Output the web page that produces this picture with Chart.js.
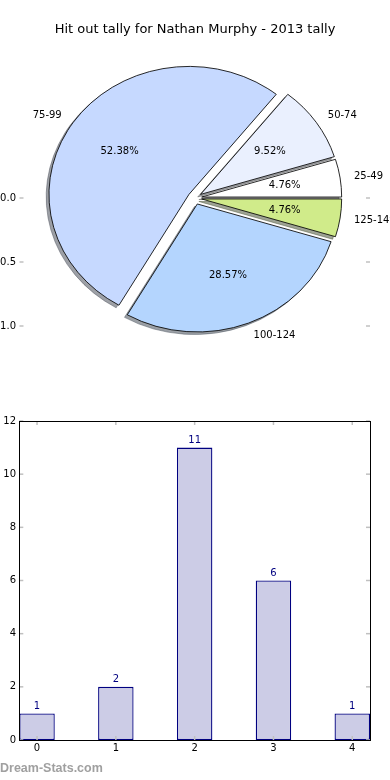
<!DOCTYPE html>
<html>
<head>
<meta charset="utf-8">
<script src="https://cdn.jsdelivr.net/npm/chart.js@4.4.1/dist/chart.umd.min.js"></script>
<style>
  body { margin: 0; background: #fff; width: 390px; height: 780px; position: relative; overflow: hidden; }
  #pie-wrap { position: absolute; left: 0; top: 0; width: 390px; height: 400px; }
  #bar-wrap { position: absolute; left: 0; top: 400px; width: 390px; height: 380px; }
  #watermark { position: absolute; left: 0; top: 761px; font: bold 12.5px "Liberation Sans", sans-serif; color: #a0a0a0; }
</style>
</head>
<body>
<div id="pie-wrap"><canvas id="pie-chart"></canvas></div>
<div id="bar-wrap"><canvas id="bar-chart"></canvas></div>
<div id="watermark">Dream-Stats.com</div>
<script>
const chartTitle = "Hit out tally for Nathan Murphy - 2013 tally";
const bands = ["25-49", "50-74", "75-99", "100-124", "125-149"];
const bins = [0, 1, 2, 3, 4];
const tally = [1, 2, 11, 6, 1];
const sliceColors = ["#ffffff", "#eaf0fe", "#c6d9ff", "#b4d5fe", "#d0eb8a"];
const pieTicks = [-1, -0.5, 0];
const countTicks = [0, 2, 4, 6, 8, 10, 12];

const FONT = "DejaVu Sans";
const total = tally.reduce((a, b) => a + b, 0);

// matplotlib draws counter-clockwise from 3 o'clock, chart.js clockwise -> reverse
const order = bands.map((b, i) => i).reverse();

const explode = 0.05;
const squash = 140 / 128;   // pie is drawn as an ellipse (unequal axes)
const shadowShift = 0.02;

function shade(hex) {
    const n = parseInt(hex.slice(1), 16);
    const r = (n >> 16) & 255, g = (n >> 8) & 255, b = n & 255;
    return `rgba(${Math.round(r * 0.3)},${Math.round(g * 0.3)},${Math.round(b * 0.3)},0.5)`;
}

// exploded, stretched pie with shadows + labels
const pieDraw = {
    id: "pieDraw",
    beforeDatasetDraw(chart, args) {
        const ctx = chart.ctx;
        const arcs = args.meta.data;
        const pass = (shadow) => {
            arcs.forEach((arc, i) => {
                const r = arc.outerRadius;
                const mid = (arc.startAngle + arc.endAngle) / 2;
                ctx.save();
                ctx.translate(arc.x, arc.y);
                ctx.scale(squash, 1);
                ctx.translate(Math.cos(mid) * explode * r, Math.sin(mid) * explode * r);
                if (shadow) ctx.translate(-shadowShift * r, shadowShift * r);
                ctx.translate(-arc.x, -arc.y);
                const orig = arc.options;
                if (shadow) {
                    const c = shade(sliceColors[order[i]]);
                    arc.options = Object.assign({}, orig, { backgroundColor: c, borderColor: c });
                }
                arc.draw(ctx);
                arc.options = orig;
                ctx.restore();
            });
        };
        pass(true);
        pass(false);
        return false;
    },
    afterDatasetsDraw(chart) {
        const ctx = chart.ctx;
        const arcs = chart.getDatasetMeta(0).data;
        ctx.save();
        ctx.font = `10px "${FONT}"`;
        ctx.fillStyle = "#000";
        ctx.textBaseline = "middle";
        arcs.forEach((arc, i) => {
            const k = order[i];
            const r = arc.outerRadius;
            const mid = (arc.startAngle + arc.endAngle) / 2;
            const cx = arc.x + squash * r * explode * Math.cos(mid);
            const cy = arc.y + r * explode * Math.sin(mid);
            ctx.textAlign = "center";
            ctx.fillText((tally[k] / total * 100).toFixed(2) + "%",
                cx + squash * r * 0.6 * Math.cos(mid), cy + r * 0.6 * Math.sin(mid));
            ctx.textAlign = Math.cos(mid) > 0 ? "left" : "right";
            ctx.fillText(bands[k], cx + squash * r * 1.1 * Math.cos(mid), cy + r * 1.1 * Math.sin(mid));
        });
        ctx.restore();
    }
};

// grey inward tick marks + optional frame
const innerTicks = {
    id: "innerTicks",
    afterDraw(chart, args, opts) {
        const ctx = chart.ctx;
        const { left, right, top, bottom } = chart.chartArea;
        ctx.save();
        ctx.strokeStyle = "#c0c0c0";
        ctx.lineWidth = 1.5;
        const line = (x1, y1, x2, y2) => { ctx.beginPath(); ctx.moveTo(x1, y1); ctx.lineTo(x2, y2); ctx.stroke(); };
        if (opts.x) {
            const s = chart.scales.x;
            s.ticks.forEach(t => {
                const px = s.getPixelForValue(t.value);
                line(px, bottom, px, bottom - 4);
                line(px, top, px, top + 4);
            });
        }
        if (opts.y) {
            const s = chart.scales.y;
            s.ticks.forEach(t => {
                const py = s.getPixelForValue(t.value);
                line(left, py, left + 4, py);
                line(right, py, right - 4, py);
            });
        }
        if (opts.frame) {
            ctx.strokeStyle = "#000";
            ctx.lineWidth = 1;
            ctx.strokeRect(Math.round(left) + 0.5, Math.round(top) + 0.5, Math.round(right - left), Math.round(bottom - top));
        }
        ctx.restore();
    }
};

// value labels on top of bars
const barValues = {
    id: "barValues",
    afterDatasetsDraw(chart) {
        const ctx = chart.ctx;
        ctx.save();
        ctx.font = `10px "${FONT}"`;
        ctx.fillStyle = "#000080";
        ctx.textAlign = "center";
        ctx.textBaseline = "bottom";
        chart.getDatasetMeta(0).data.forEach((bar, i) => {
            ctx.fillText(tally[i], bar.x, bar.y - 2);
        });
        ctx.restore();
    }
};

new Chart(document.getElementById("pie-chart"), {
    type: "pie",
    data: {
        labels: order.map(k => bands[k]),
        datasets: [{
            data: order.map(k => tally[k]),
            backgroundColor: order.map(k => sliceColors[k]),
            borderColor: "#000",
            borderWidth: 0.8
        }]
    },
    options: {
        responsive: true,
        maintainAspectRatio: false,
        animation: false,
        devicePixelRatio: 1,
        rotation: 90,
        radius: 128,
        layout: { padding: { top: 0, right: 0, bottom: 62, left: 0 } },
        scales: {
            y: {
                type: "linear",
                position: "left",
                min: -1.09375,
                max: 1.09375,
                afterFit: s => { s.width = 19.5; },
                afterBuildTicks: s => { s.ticks = pieTicks.map(v => ({ value: v })); },
                ticks: {
                    callback: v => v.toFixed(1),
                    font: { family: FONT, size: 10 },
                    color: "#000",
                    padding: 3.5
                },
                grid: { display: false, drawTicks: false },
                border: { display: false }
            },
            yr: {
                type: "linear",
                position: "right",
                min: -1.09375,
                max: 1.09375,
                afterFit: s => { s.width = 20; },
                ticks: { display: false },
                grid: { display: false, drawTicks: false },
                border: { display: false }
            }
        },
        plugins: {
            legend: { display: false },
            tooltip: { enabled: false },
            title: {
                display: true,
                text: chartTitle,
                color: "#000",
                font: { family: FONT, size: 13, weight: "normal" },
                padding: { top: 22.2, bottom: 20.2 }
            },
            innerTicks: { y: true }
        }
    },
    plugins: [pieDraw, innerTicks]
});

new Chart(document.getElementById("bar-chart"), {
    type: "bar",
    data: {
        datasets: [{
            data: bins.map((b, i) => ({ x: b, y: tally[i] })),
            backgroundColor: "#ccccE6",
            borderColor: "#000080",
            borderWidth: 1.3,
            borderSkipped: false,
            categoryPercentage: 1,
            barPercentage: 0.45
        }]
    },
    options: {
        responsive: true,
        maintainAspectRatio: false,
        animation: false,
        devicePixelRatio: 1,
        layout: { padding: { top: 21, right: 20, bottom: 0, left: 0 } },
        scales: {
            x: {
                type: "linear",
                offset: false,
                min: -0.225,
                max: 4.225,
                afterFit: s => { s.height = 40; },
                afterBuildTicks: s => { s.ticks = bins.map(v => ({ value: v })); },
                ticks: { font: { family: FONT, size: 10 }, color: "#000", padding: 2 },
                grid: { display: false, drawTicks: false, offset: false },
                border: { display: false }
            },
            y: {
                type: "linear",
                min: 0,
                max: 12,
                afterFit: s => { s.width = 19.3; },
                afterBuildTicks: s => { s.ticks = countTicks.map(v => ({ value: v })); },
                ticks: { font: { family: FONT, size: 10 }, color: "#000", padding: 3.3 },
                grid: { display: false, drawTicks: false },
                border: { display: false }
            }
        },
        plugins: {
            legend: { display: false },
            tooltip: { enabled: false },
            innerTicks: { x: true, y: true, frame: true }
        }
    },
    plugins: [barValues, innerTicks]
});
</script>
</body>
</html>
